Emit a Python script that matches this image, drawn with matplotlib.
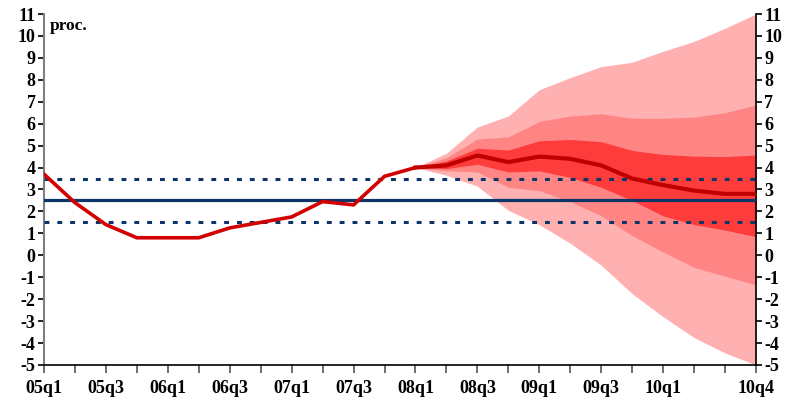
import matplotlib.pyplot as plt
import numpy as np

plt.rcParams['font.family'] = ['Liberation Serif', 'DejaVu Serif']
plt.rcParams['font.weight'] = 'bold'
plt.rcParams['axes.unicode_minus'] = False

quarters = ['05q1', '05q2', '05q3', '05q4', '06q1', '06q2', '06q3', '06q4',
            '07q1', '07q2', '07q3', '07q4', '08q1', '08q2', '08q3', '08q4',
            '09q1', '09q2', '09q3', '09q4', '10q1', '10q2', '10q3', '10q4']
shown_labels = ['05q1', '05q3', '06q1', '06q3', '07q1', '07q3', '08q1',
                '08q3', '09q1', '09q3', '10q1', '10q4']

# observed inflation, 05q1 - 08q1
actual = [3.7, 2.4, 1.4, 0.8, 0.8, 0.8, 1.25, 1.5, 1.75, 2.45, 2.3, 3.6, 4.0]

# projection, 08q1 - 10q4
central = [4.0, 4.1, 4.55, 4.25, 4.5, 4.4, 4.1, 3.5, 3.2, 2.95, 2.8, 2.8]
outer_hi = [4.0, 4.65, 5.85, 6.35, 7.55, 8.1, 8.6, 8.8, 9.3, 9.75, 10.35, 11.0]
mid_hi = [4.0, 4.45, 5.3, 5.4, 6.1, 6.35, 6.45, 6.25, 6.25, 6.3, 6.5, 6.85]
inner_hi = [4.0, 4.3, 4.88, 4.8, 5.22, 5.28, 5.18, 4.78, 4.6, 4.52, 4.5, 4.57]
inner_lo = [4.0, 3.95, 4.15, 3.8, 3.85, 3.55, 3.1, 2.5, 1.8, 1.4, 1.15, 0.85]
mid_lo = [4.0, 3.85, 3.8, 3.1, 2.95, 2.45, 1.8, 0.9, 0.15, -0.55, -0.95, -1.35]
outer_lo = [4.0, 3.65, 3.15, 2.05, 1.4, 0.55, -0.45, -1.75, -2.8, -3.75, -4.45, -5.0]

target = 2.5
band = [1.5, 3.5]

x_all = np.arange(len(quarters))
x_hist = x_all[:len(actual)]
x_proj = x_all[len(actual) - 1:]

fig = plt.figure(figsize=(7.87, 4.07), dpi=100)
ax = fig.add_axes([0.0559, 0.1032, 0.9047, 0.8624])

ax.fill_between(x_proj, outer_lo, outer_hi, color='#ffb0b0', lw=0)
ax.fill_between(x_proj, mid_lo, mid_hi, color='#ff8585', lw=0)
ax.fill_between(x_proj, inner_lo, inner_hi, color='#ff3c3c', lw=0)

ax.axhline(target, color='#0b3567', lw=2.3, zorder=3)
for b in band:
    ax.axhline(b, color='#0b3567', lw=2.2, dashes=(1.6, 2.6), zorder=3)

ax.plot(x_hist, actual, color='#d20000', lw=2.6, zorder=4, solid_joinstyle='miter')
ax.plot(x_proj, central, color='#c00000', lw=3.0, zorder=4)

ax.set_xlim(0, len(quarters) - 1)
ax.set_ylim(-5, 11)
ax.set_yticks(range(-5, 12))
ax.set_xticks(x_all)
ax.set_xticklabels([q if q in shown_labels else '' for q in quarters])

ax.spines['top'].set_visible(False)
ax.spines['left'].set_color('#808080')
ax.spines['left'].set_linewidth(1.5)
ax.spines['right'].set_linewidth(1.2)
ax.spines['bottom'].set_linewidth(1.2)

ax.tick_params(axis='y', direction='out', left=True, right=True,
               labelleft=True, labelright=True, length=4, width=1.2,
               labelsize=13, pad=2)
ax.tick_params(axis='x', direction='out', length=6, width=1.2,
               color='#555555', labelsize=13, pad=5)

ax.text(0.008, 0.988, 'proc.', transform=ax.transAxes, fontsize=12.5,
        fontweight='bold', va='top', ha='left')

fig.savefig('out.png', dpi=100)
